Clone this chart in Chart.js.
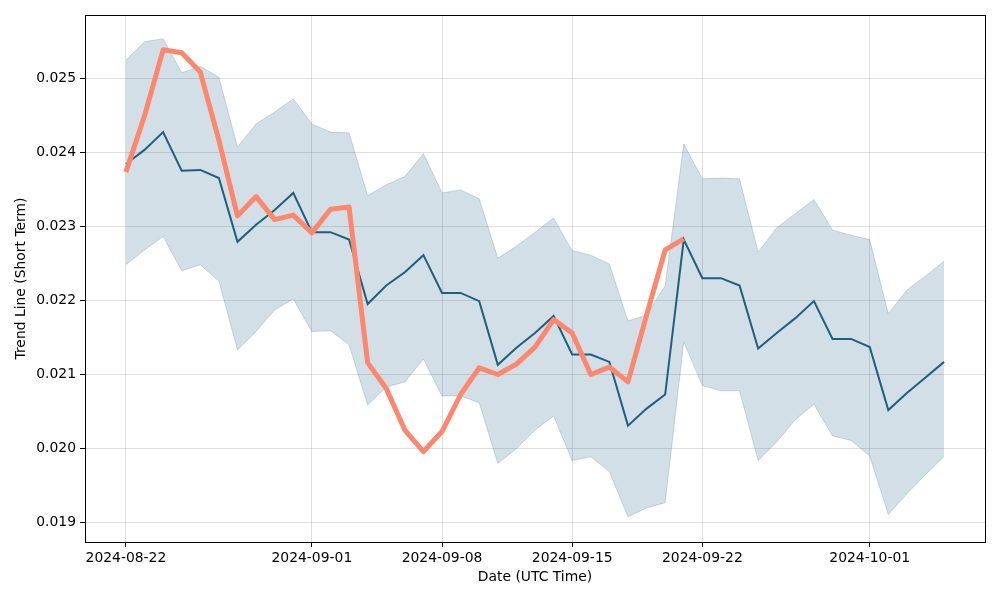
<!DOCTYPE html>
<html lang="en">
<head>
    <meta charset="UTF-8">
    <title>Trend Line (Short Term)</title>
    <style>
        body { margin: 0; background: #fff; }
        #wrap { width: 1000px; height: 600px; }
    </style>
</head>
<body>
    <div id="wrap"><canvas id="myChart" width="1000" height="600"></canvas></div>

    <script src="https://cdn.jsdelivr.net/npm/chart.js"></script>
    <script>
        // daily dates 2024-08-22 .. 2024-10-05
        const startDate = '2024-08-22';
        const dayCount = 45;

        const trend = [
            0.02384, 0.02403, 0.02427, 0.02375, 0.02376, 0.02365, 0.02279, 0.02302, 0.02322, 0.02345,
            0.02292, 0.02292, 0.02282, 0.02195, 0.02220, 0.02238, 0.02261, 0.02210, 0.02210, 0.02199,
            0.02113, 0.02136, 0.02156, 0.02179, 0.02127, 0.02127, 0.02117, 0.02031, 0.02054, 0.02073,
            0.02282, 0.02230, 0.02230, 0.02220, 0.02135, 0.02156, 0.02176, 0.02199, 0.02148, 0.02148,
            0.02137, 0.02052, 0.02075, 0.02096, 0.02117
        ];
        const upper = [
            0.02524, 0.02549, 0.02553, 0.02507, 0.02516, 0.02501, 0.02407, 0.02438, 0.02454, 0.02472,
            0.02438, 0.02427, 0.02426, 0.02341, 0.02356, 0.02367, 0.02398, 0.02345, 0.02349, 0.02337,
            0.02257, 0.02273, 0.02292, 0.02311, 0.02267, 0.02261, 0.02249, 0.02172, 0.02180, 0.02220,
            0.02411, 0.02364, 0.02365, 0.02364, 0.02265, 0.02298, 0.02317, 0.02336, 0.02295, 0.02288,
            0.02282, 0.02182, 0.02214, 0.02233, 0.02253
        ];
        const lower = [
            0.02248, 0.02268, 0.02286, 0.02240, 0.02248, 0.02226, 0.02133, 0.02158, 0.02187, 0.02202,
            0.02158, 0.02159, 0.02140, 0.02059, 0.02083, 0.02090, 0.02121, 0.02071, 0.02071, 0.02062,
            0.01980, 0.02000, 0.02025, 0.02044, 0.01984, 0.01989, 0.01969, 0.01908, 0.01920, 0.01927,
            0.02144, 0.02085, 0.02078, 0.02078, 0.01984, 0.02009, 0.02039, 0.02060, 0.02017, 0.02011,
            0.01990, 0.01911, 0.01939, 0.01965, 0.01989
        ];
        // actual price, only up to 2024-09-21
        const actual = [
            0.02373, 0.02449, 0.02538, 0.02534, 0.02508, 0.02416, 0.02314, 0.02340, 0.02309, 0.02315,
            0.02291, 0.02323, 0.02326, 0.02116, 0.02081, 0.02025, 0.01996, 0.02023, 0.02073, 0.02109,
            0.02100, 0.02114, 0.02137, 0.02174, 0.02156, 0.02100, 0.02110, 0.02090, 0.02180, 0.02268,
            0.02283
        ];

        const xTickLabels = ['2024-08-22', '2024-09-01', '2024-09-08', '2024-09-15', '2024-09-22', '2024-10-01'];
        const yTicks = [0.019, 0.020, 0.021, 0.022, 0.023, 0.024, 0.025];

        const DAY = 86400000;
        const t0 = Date.parse(startDate);
        const dayOf = s => Math.round((Date.parse(s) - t0) / DAY);
        const labelOf = d => new Date(t0 + d * DAY).toISOString().slice(0, 10);

        const pts = arr => arr.map((v, i) => ({ x: i, y: v }));

        const lineColor = 'rgb(30, 95, 128)';
        const bandFill = 'rgba(30, 95, 130, 0.2)';
        const salmon = 'rgb(255, 135, 110)';
        const font = { family: 'DejaVu Sans', size: 13.9 };

        // black frame around the plot area
        const frame = {
            id: 'frame',
            afterDraw(chart) {
                const a = chart.chartArea, c = chart.ctx;
                c.save();
                c.strokeStyle = '#000';
                c.lineWidth = 1;
                c.strokeRect(Math.round(a.left) + 0.5, Math.round(a.top) + 0.5,
                    Math.round(a.right - a.left), Math.round(a.bottom - a.top));
                c.restore();
            }
        };

        const ctx = document.getElementById('myChart').getContext('2d');
        let myChart = new Chart(ctx, {
            type: 'line',
            data: {
                datasets: [
                    {
                        label: 'Actual',
                        data: pts(actual),
                        borderColor: salmon,
                        borderWidth: 5,
                        borderJoinStyle: 'round',
                        pointRadius: 0,
                        fill: false,
                        order: 0
                    },
                    {
                        label: 'Trend',
                        data: pts(trend),
                        borderColor: lineColor,
                        borderWidth: 2,
                        pointRadius: 0,
                        fill: false,
                        order: 1
                    },
                    {
                        label: 'Upper',
                        data: pts(upper),
                        borderColor: bandFill,
                        backgroundColor: bandFill,
                        borderWidth: 1,
                        pointRadius: 0,
                        fill: '+1',
                        order: 2
                    },
                    {
                        label: 'Lower',
                        data: pts(lower),
                        borderColor: bandFill,
                        borderWidth: 1,
                        pointRadius: 0,
                        fill: false,
                        order: 3
                    }
                ]
            },
            options: {
                responsive: false,
                animation: false,
                layout: { padding: { top: 15, right: 15, left: 0, bottom: 0 } },
                plugins: {
                    legend: { display: false },
                    tooltip: { enabled: false }
                },
                scales: {
                    x: {
                        type: 'linear',
                        min: -2.2,
                        max: dayCount - 1 + 2.2,
                        afterBuildTicks: scale => {
                            scale.ticks = xTickLabels.map(s => ({ value: dayOf(s) }));
                        },
                        afterFit: scale => { scale.height = 58; },
                        ticks: {
                            callback: v => labelOf(v),
                            color: '#000',
                            font: font,
                            maxRotation: 0,
                            autoSkip: false,
                            padding: 3
                        },
                        grid: { color: 'rgba(176,176,176,0.4)', tickColor: '#000', tickLength: 5 },
                        border: { display: false },
                        title: { display: true, text: 'Date (UTC Time)', color: '#000', font: font, padding: { top: 2, bottom: 14 } }
                    },
                    y: {
                        min: 0.01874,
                        max: 0.02585,
                        afterBuildTicks: scale => {
                            scale.ticks = yTicks.map(v => ({ value: v }));
                        },
                        afterFit: scale => { scale.width = 85; },
                        ticks: {
                            callback: v => v.toFixed(3),
                            color: '#000',
                            font: font,
                            padding: 4
                        },
                        grid: { color: 'rgba(176,176,176,0.4)', tickColor: '#000', tickLength: 5 },
                        border: { display: false },
                        title: { display: true, text: 'Trend Line (Short Term)', color: '#000', font: font, padding: { top: 13, bottom: 2 } }
                    }
                }
            },
            plugins: [frame]
        });
    </script>
</body>
</html>
